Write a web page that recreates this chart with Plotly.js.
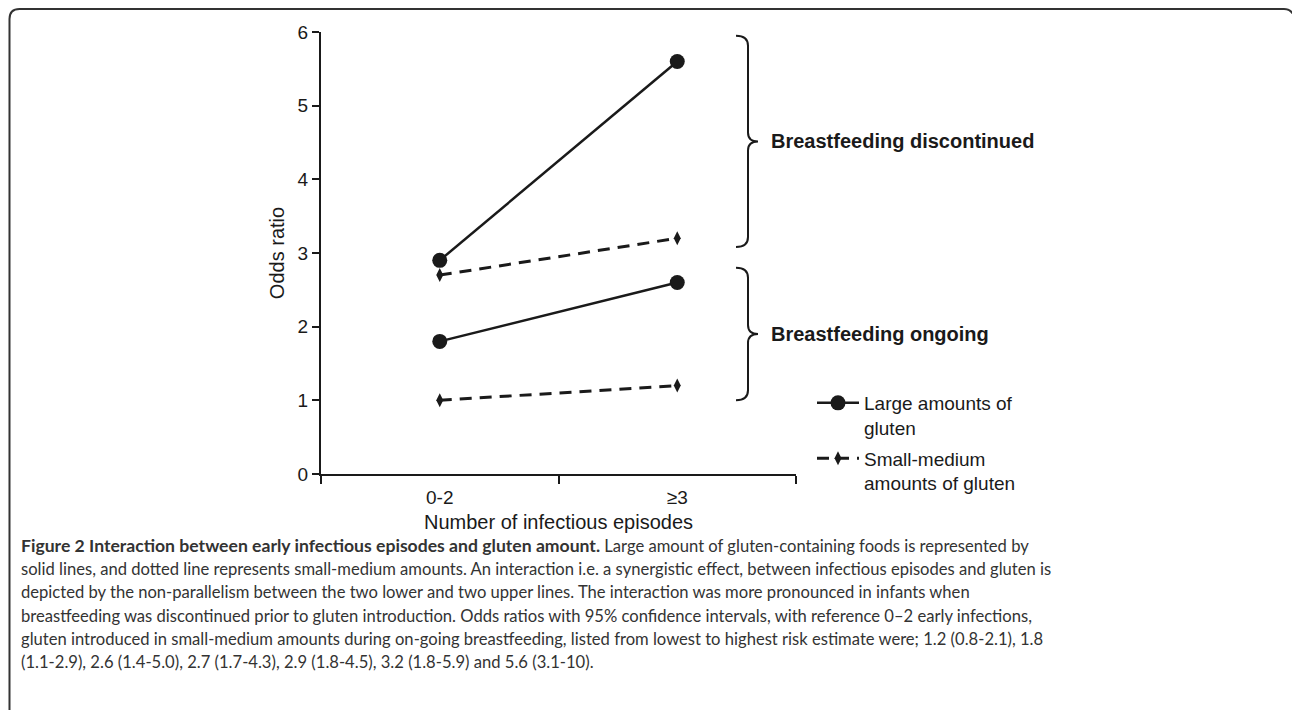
<!DOCTYPE html>
<html>
<head>
<meta charset="utf-8">
<script src="https://cdn.plot.ly/plotly-3.0.1.min.js"></script>
<style>
html,body{margin:0;padding:0;background:#fff;}
#chart{width:1292px;height:710px;}
</style>
</head>
<body>
<div id="chart"></div>
<script>
// ---- data ----
var categories = ["0-2", "\u22653"];
var largeDiscontinued = [2.9, 5.6];
var smallDiscontinued = [2.7, 3.2];
var largeOngoing = [1.8, 2.6];
var smallOngoing = [1.0, 1.2];
var seriesNames = ["Large amounts of<br>gluten", "Small-medium<br>amounts of gluten"];
var groupLabels = ["Breastfeeding discontinued", "Breastfeeding ongoing"];
var groupRanges = [[3.08, 5.95], [1.0, 2.8]];
var yTitle = "Odds ratio";
var xTitle = "Number of infectious episodes";
var captionTitle = "Figure 2 Interaction between early infectious episodes and gluten amount.";
var captionLines = [
  " Large amount of gluten-containing foods is represented by",
  "solid lines, and dotted line represents small-medium amounts. An interaction i.e. a synergistic effect, between infectious episodes and gluten is",
  "depicted by the non-parallelism between the two lower and two upper lines. The interaction was more pronounced in infants when",
  "breastfeeding was discontinued prior to gluten introduction. Odds ratios with 95% confidence intervals, with reference 0\u20132 early infections,",
  "gluten introduced in small-medium amounts during on-going breastfeeding, listed from lowest to highest risk estimate were; 1.2 (0.8-2.1), 1.8",
  "(1.1-2.9), 2.6 (1.4-5.0), 2.7 (1.7-4.3), 2.9 (1.8-4.5), 3.2 (1.8-5.9) and 5.6 (3.1-10)."
];

// ---- geometry ----
var W = 1292, H = 710;
var L = 321, R = 796, T = 32, B = 474;
function px(x){ return (x - L) / (R - L); }
function py(y){ return (B - y) / (B - T); }
function yv(v){ return B - v * (B - T) / 6; } // value -> pixel y

var black = "#1a1a1a";
var chartFont = "Liberation Sans, Arial, sans-serif";
var capFont = "Lato, Open Sans, sans-serif";

function solid(y, name, show){
  return {x: categories, y: y, type: "scatter", mode: "lines+markers", name: name,
    legendgroup: "large", showlegend: show,
    line: {color: black, width: 2.5},
    marker: {symbol: "circle", size: 15, color: black}};
}
function dashed(y, name, show){
  return {x: categories, y: y, type: "scatter", mode: "lines+markers", name: name,
    legendgroup: "small", showlegend: show,
    line: {color: black, width: 3, dash: "12px,8px"},
    marker: {symbol: "diamond-tall", size: 10, color: black}};
}
var traces = [
  solid(largeDiscontinued, seriesNames[0], true),
  dashed(smallDiscontinued, seriesNames[1], true),
  solid(largeOngoing, seriesNames[0], false),
  dashed(smallOngoing, seriesNames[1], false)
];

// ---- shapes ----
var shapes = [];
function P(x, y){ return px(x).toFixed(5) + "," + py(y).toFixed(5); }
shapes.push({type: "path", xref: "paper", yref: "paper",
  path: "M " + P(9.5, 712) + " L " + P(9.5, 19) + " Q " + P(9.5, 9) + " " + P(19.5, 9) +
        " L " + P(1284, 9) + " Q " + P(1290, 9) + " " + P(1293, 14),
  line: {color: "#333", width: 2}});
function brace(v0, v1){
  var yt = yv(v1), yb = yv(v0), ym = (yt + yb) / 2;
  var x0 = 736, x1 = 748, x2 = 758;
  return {type: "path", xref: "paper", yref: "paper",
    path: "M " + P(x0, yt) + " Q " + P(x1, yt) + " " + P(x1, yt + 10) +
          " L " + P(x1, ym - 9) + " Q " + P(x1, ym) + " " + P(x2, ym) +
          " Q " + P(x1, ym) + " " + P(x1, ym + 9) +
          " L " + P(x1, yb - 10) + " Q " + P(x1, yb) + " " + P(x0, yb),
    line: {color: black, width: 2}};
}
shapes.push(brace(groupRanges[0][0], groupRanges[0][1]));
shapes.push(brace(groupRanges[1][0], groupRanges[1][1]));

// ---- annotations ----
var annotations = [];
groupLabels.forEach(function(t, i){
  var ym = (yv(groupRanges[i][0]) + yv(groupRanges[i][1])) / 2;
  annotations.push({xref: "paper", yref: "paper", x: px(769), y: py(ym),
    xanchor: "left", yanchor: "middle", showarrow: false,
    text: "<b>" + t + "</b>", font: {family: chartFont, size: 20, color: black}});
});
var capY = [545.5, 569, 592.3, 615.7, 639, 662.3];
captionLines.forEach(function(t, i){
  var txt = i === 0 ? '<span style="font-size:17.6px"><b>' + captionTitle + '</b></span>' + t : t;
  annotations.push({xref: "paper", yref: "paper", x: px(19), y: py(capY[i]),
    xanchor: "left", yanchor: "middle", showarrow: false, align: "left",
    text: txt, font: {family: capFont, size: 16.6, color: "#333"}});
});

var layout = {
  width: W, height: H,
  margin: {l: L, r: W - R, t: T, b: H - B, pad: 0},
  paper_bgcolor: "#fff", plot_bgcolor: "#fff",
  font: {family: chartFont, color: black},
  showlegend: true,
  legend: {x: px(812), y: py(384), xanchor: "left", yanchor: "top",
    valign: "top", bgcolor: "rgba(0,0,0,0)", borderwidth: 0,
    font: {family: chartFont, size: 19, color: black},
    tracegroupgap: 3, itemwidth: 42},
  xaxis: {type: "category", range: [-0.5, 1.5], tickson: "boundaries",
    showline: true, linecolor: black, linewidth: 2, mirror: false,
    ticks: "outside", ticklen: 8, tickwidth: 2, tickcolor: black,
    ticklabelstandoff: 5,
    showgrid: false, zeroline: false, fixedrange: true,
    tickfont: {family: chartFont, size: 19, color: black},
    title: {text: xTitle, font: {family: chartFont, size: 20, color: black}, standoff: 8}},
  yaxis: {range: [0, 6], tickvals: [0, 1, 2, 3, 4, 5, 6],
    showline: true, linecolor: black, linewidth: 2,
    ticks: "outside", ticklen: 7, tickwidth: 2, tickcolor: black,
    showgrid: false, zeroline: false, fixedrange: true,
    tickfont: {family: chartFont, size: 19, color: black},
    title: {text: yTitle, font: {family: chartFont, size: 20, color: black}, standoff: 8}},
  shapes: shapes,
  annotations: annotations
};

Plotly.newPlot("chart", traces, layout, {displayModeBar: false, staticPlot: true});
</script>
</body>
</html>
